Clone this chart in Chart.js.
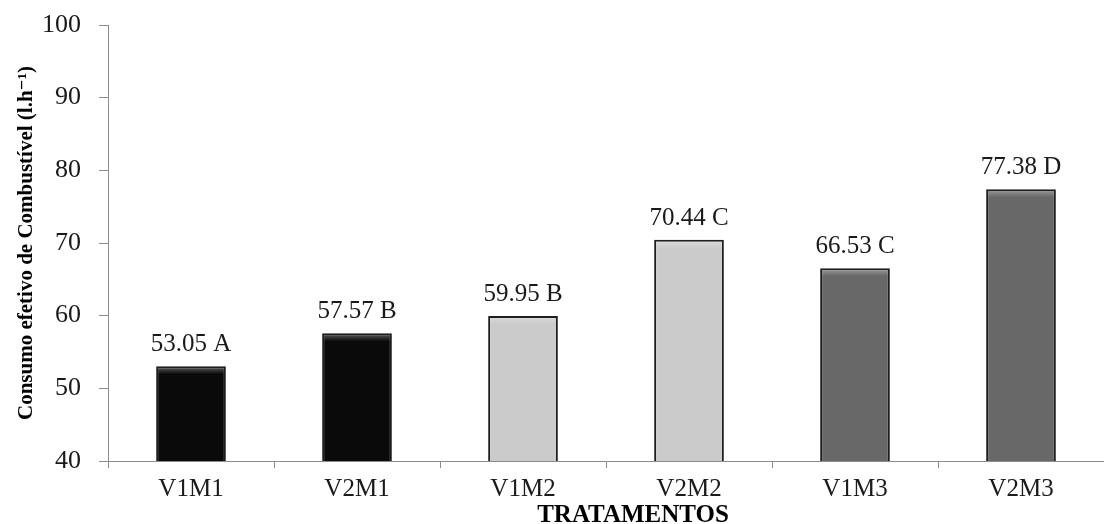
<!DOCTYPE html>
<html>
<head>
<meta charset="utf-8">
<script src="https://cdn.jsdelivr.net/npm/chart.js@4/dist/chart.umd.min.js"></script>
<style>
  html, body { margin: 0; padding: 0; background: #fff; }
  #wrap { width: 1104px; height: 524px; }
</style>
</head>
<body>
<div id="wrap"><canvas id="consumoChart" width="1104" height="524"></canvas></div>
<script>
// Values
const categories = ['V1M1', 'V2M1', 'V1M2', 'V2M2', 'V1M3', 'V2M3'];
const consumo = [53.05, 57.57, 59.95, 70.44, 66.53, 77.38];
const letters = ['A', 'B', 'B', 'C', 'C', 'D'];
const barColors = ['#0a0a0a', '#0a0a0a', '#cbcbcb', '#cbcbcb', '#686868', '#686868'];
const yTicks = [40, 50, 60, 70, 80, 90, 100];
const xTitle = 'TRATAMENTOS';
const yTitle = 'Consumo efetivo de Combustível (l.h⁻¹)';

const serif = "'Liberation Serif', 'DejaVu Serif', serif";

// Draw "53.05 A" style labels above every bar
const valueLabels = {
    id: 'valueLabels',
    afterDatasetsDraw(chart) {
        const ctx = chart.ctx;
        const meta = chart.getDatasetMeta(0);
        ctx.save();
        ctx.font = '25px ' + serif;
        ctx.fillStyle = '#1a1a1a';
        ctx.textAlign = 'center';
        ctx.textBaseline = 'alphabetic';
        meta.data.forEach((bar, i) => {
            const txt = consumo[i].toFixed(2) + ' ' + letters[i];
            ctx.fillText(txt, bar.x, bar.y - 15);
        });
        ctx.restore();
    }
};

// x axis title sits a bit right of centre in the original
const xAxisTitle = {
    id: 'xAxisTitle',
    afterDraw(chart) {
        const ctx = chart.ctx;
        ctx.save();
        ctx.font = 'bold 25px ' + serif;
        ctx.fillStyle = '#000';
        ctx.textAlign = 'center';
        ctx.textBaseline = 'alphabetic';
        ctx.fillText(xTitle, 633, 522);
        ctx.restore();
    }
};

// Soft bevel look on the bars (light top edge)
const bevel = {
    id: 'bevel',
    afterDatasetsDraw(chart) {
        const ctx = chart.ctx;
        const meta = chart.getDatasetMeta(0);
        ctx.save();
        meta.data.forEach((bar) => {
            const w = bar.width;
            const left = bar.x - w / 2;
            const top = bar.y;
            const g = ctx.createLinearGradient(0, top, 0, top + 8);
            g.addColorStop(0, 'rgba(255,255,255,0.35)');
            g.addColorStop(1, 'rgba(255,255,255,0)');
            ctx.fillStyle = g;
            ctx.fillRect(left + 2, top + 2, w - 4, 7);
        });
        ctx.restore();
    }
};

const ctx = document.getElementById('consumoChart').getContext('2d');
const consumoChart = new Chart(ctx, {
    type: 'bar',
    data: {
        labels: categories,
        datasets: [
            {
                data: consumo,
                backgroundColor: barColors,
                borderColor: '#1e1e1e',
                borderWidth: 2,
                barPercentage: 0.42,
                categoryPercentage: 1.0,
            },
        ],
    },
    options: {
        responsive: false,
        animation: false,
        layout: {
            padding: { top: 25, right: 0, left: 0, bottom: 0 },
        },
        plugins: {
            legend: { display: false },
            tooltip: { enabled: false },
        },
        scales: {
            x: {
                grid: {
                    drawOnChartArea: false,
                    drawTicks: true,
                    tickLength: 7,
                    color: '#8c8c8c',
                    offset: true,
                },
                border: { color: '#8c8c8c', width: 1 },
                ticks: {
                    color: '#1a1a1a',
                    font: { family: serif, size: 25 },
                    padding: 6,
                },
                afterFit: (scale) => {
                    scale.height = 63;
                    scale.paddingLeft = 0;
                    scale.paddingRight = 0;
                },
            },
            y: {
                min: 40,
                max: 100,
                afterBuildTicks: (scale) => {
                    scale.ticks = yTicks.map(v => ({ value: v }));
                },
                grid: {
                    drawOnChartArea: false,
                    drawTicks: true,
                    tickLength: 9,
                    color: '#8c8c8c',
                },
                border: { color: '#8c8c8c', width: 1 },
                ticks: {
                    color: '#1a1a1a',
                    font: { family: serif, size: 26 },
                    padding: 18,
                },
                title: {
                    display: true,
                    text: yTitle,
                    color: '#000',
                    font: { family: serif, size: 21, weight: 'bold' },
                    padding: { top: 14, bottom: 0 },
                },
                afterFit: (scale) => {
                    scale.width = 108;
                    scale.paddingTop = 0;
                    scale.paddingBottom = 0;
                },
            },
        },
    },
    plugins: [bevel, valueLabels, xAxisTitle],
});
</script>
</body>
</html>
